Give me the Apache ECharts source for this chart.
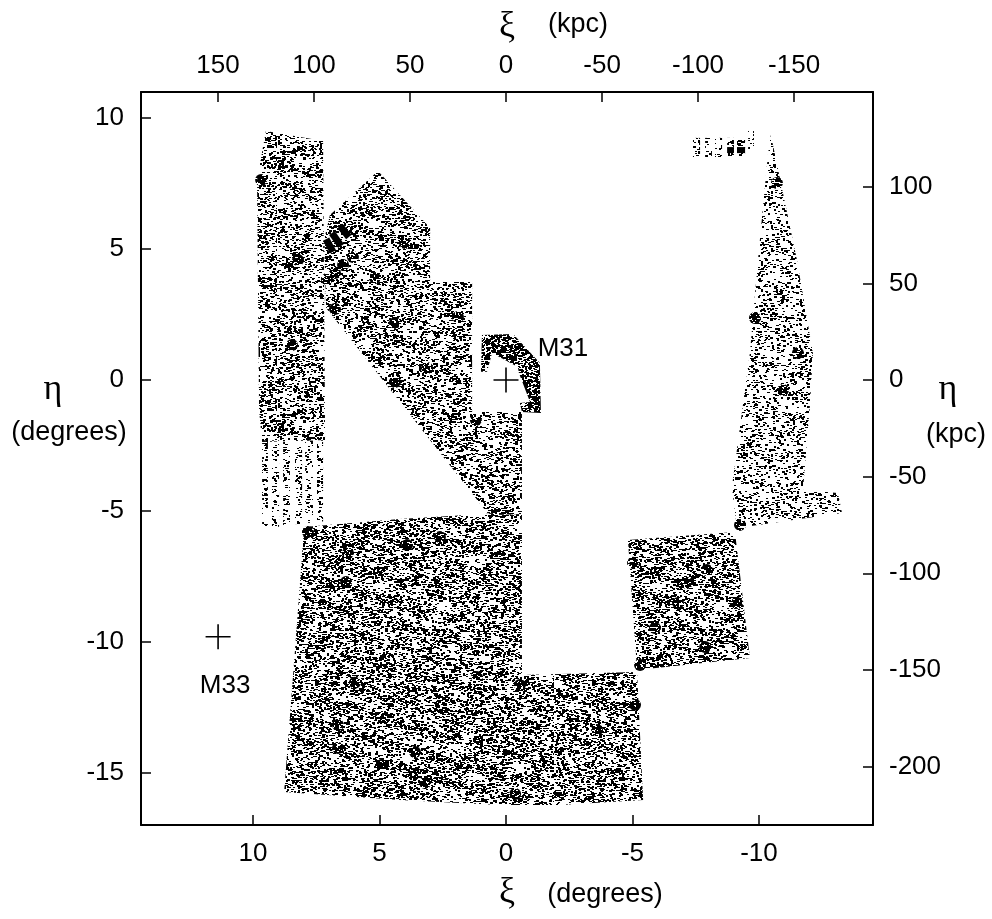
<!DOCTYPE html>
<html><head><meta charset="utf-8">
<style>html,body{margin:0;padding:0;background:#fff}#c{width:992px;height:919px}</style>
<script src="https://cdn.jsdelivr.net/npm/echarts@6/dist/echarts.min.js"></script>
</head><body><div id="c"></div>
<script>
// Tick labels
const xiDegTicks = [10, 5, 0, -5, -10];
const etaDegTicks = [10, 5, 0, -5, -10, -15];
const xiKpcTicks = [150, 100, 50, 0, -50, -100, -150];
const etaKpcTicks = [100, 50, 0, -50, -100, -150, -200];

// Survey footprints, [xi, eta] in degrees
const stripNorth = [[9.49,9.50],[7.23,9.12],[7.15,-2.29],[9.64,-2.37],[9.76,-1.15],[9.84,7.63]];
const diagonalField = [[5.06,7.98],[3.00,5.80],[3.00,3.74],[1.34,3.74],[1.34,-1.22],[-0.63,-1.22],[-0.63,-5.15],[0.71,-5.11],[7.11,2.75],[7.19,5.34],[6.96,6.30]];
const southField = [[7.98,-5.61],[4.19,-5.31],[0.71,-5.11],[-0.63,-5.15],[-0.63,-11.26],[-5.18,-11.15],[-5.42,-16.03],[-2.13,-16.22],[0.24,-16.22],[4.19,-16.03],[8.77,-15.73],[8.34,-10.31]];
const westWedge = [[-10.47,9.35],[-11.50,4.58],[-12.13,1.03],[-12.02,-0.88],[-11.74,-4.20],[-13.12,-4.31],[-13.28,-5.08],[-9.13,-5.65],[-8.93,-4.08],[-9.64,1.03],[-9.96,4.58],[-10.36,8.66]];
const westSquare = [[-4.82,-6.11],[-9.05,-5.80],[-9.64,-10.61],[-5.18,-11.07]];
const m31Patch = [[0.95,1.72],[-0.28,1.76],[-1.34,0.65],[-1.38,-1.26],[-0.63,-1.22],[-0.55,-0.88],[-0.95,-0.84],[-0.51,0.27],[-0.47,0.50],[0.55,1.03],[0.75,0.31],[0.99,0.31]];

// Striped pointings: [xi left, xi right, eta top, eta bottom]
const southStripes = [[9.64,9.41,-2.3,-5.6],[9.25,8.97,-2.3,-5.6],[8.81,8.54,-2.3,-5.55],[8.34,8.06,-2.3,-5.5],[7.94,7.63,-2.3,-5.45],[7.47,7.23,-2.3,-5.4]];
const northStripes = [[-7.39,-7.67,9.24,8.51],[-7.87,-8.14,9.24,8.51],[-8.26,-8.54,9.24,8.51],[-8.74,-9.01,9.24,8.51],[-9.13,-9.45,9.24,8.51],[-9.57,-9.80,9.54,8.78]];
const solidBlocks = [[-8.74,-9.01,8.89,8.66],[-9.13,-9.45,8.89,8.66]];
// Saturated bars in the north-east field: [xi1, eta1, xi2, eta2]
const solidBars = [[7.11,5.38,6.84,4.89],[6.88,5.61,6.52,5.11],[6.56,5.88,6.21,5.46]];

// Visible overdensities, [xi, eta]
const clumps = [[9.68,7.63],[8.22,4.58],[8.46,1.34],[6.05,4.69],[6.44,4.39],[6.76,4.08],[7.08,3.85],[5.18,3.89],[6.76,2.71],[4.39,2.18],[3.12,0.46],[4.39,-0.08],[3.99,5.23],[1.90,2.40],[1.19,-1.53],[6.32,-7.71],[6.25,-6.60],[3.91,-6.30],[2.61,-5.99],[7.83,-5.80],[6.64,-13.17],[6.64,-14.05],[3.60,-14.20],[-0.55,-11.64],[-5.10,-12.40],[-0.36,-15.80],[4.90,-14.69],[1.15,-11.34],[5.97,-11.56],[-3.60,-13.36],[3.20,-15.38],[-7.15,-7.75],[-6.80,-8.51],[-7.94,-7.25],[-9.13,-8.51],[-5.02,-6.98],[-5.89,-9.47],[-7.87,-10.19],[-5.30,-10.88],[-11.54,1.03],[-10.71,7.52],[-10.95,-0.38],[-9.84,2.37],[-9.25,-5.53]];

// Galaxy markers
const galaxyNames = ['M31','M33'];
const galaxyPositions = [[0,0],[11.38,-9.8]];

// A printed stipple texture only: it is a fill style for the footprints,
// not a set of measured stars.
function stipple(w,h,count,seed,clumpy){
  const cv=document.createElement('canvas');cv.width=w;cv.height=h;
  const g=cv.getContext('2d');g.fillStyle='#000';
  let s=seed>>>0;
  const next=()=>{s=(s+0x6D2B79F5)>>>0;let t=s;t=Math.imul(t^(t>>>15),t|1);t^=t+Math.imul(t^(t>>>7),t|61);return((t^(t>>>14))>>>0)/4294967296;};
  const k=2*Math.PI;
  for(let i=0;i<count;i++){
    const x=Math.floor(next()*w),y=Math.floor(next()*h);
    const m=clumpy?0.55+0.12*Math.sin(k*7*x/w+k*5*y/h)+0.12*Math.cos(k*11*y/h-k*3*x/w+1)+0.12*Math.sin(k*4*x/w-k*13*y/h+2):0.9;
    if(next()>m) continue;
    g.fillRect(x,y,next()<0.7?2:3,next()<0.7?1:2);
  }
  return {type:'pattern',image:cv,repeat:'repeat'};
}
const tileMain=stipple(277,263,26000,11,true);
const tileMid=stipple(277,263,21000,29,true);
const tileLight=stipple(277,263,13500,47,true);
const tileDense=stipple(97,89,3600,71,false);

function polyItem(points,fill,api){
  return {type:'polygon',shape:{points:points.map(p=>api.coord(p))},style:{fill:fill},silent:true};
}
function stripeToPoly(r){return [[r[0],r[2]],[r[1],r[2]],[r[1],r[3]],[r[0],r[3]]];}

const regions=[
  {pts:stripNorth,fill:tileMid},
  {pts:diagonalField,fill:tileMid},
  {pts:southField,fill:tileMain},
  {pts:westWedge,fill:tileLight},
  {pts:westSquare,fill:tileMain},
  {pts:m31Patch,fill:tileDense}
].concat(southStripes.map(r=>({pts:stripeToPoly(r),fill:tileLight})))
 .concat(northStripes.map(r=>({pts:stripeToPoly(r),fill:tileLight})))
 .concat(solidBlocks.map(r=>({pts:stripeToPoly(r),fill:'#000'})));

const black='#000';
const font='"Liberation Sans", Arial, sans-serif';
const greek='"Liberation Serif", serif';
function axis(extra,ticks,margin){
  return Object.assign({type:'value',
    axisLine:{onZero:false,lineStyle:{color:black,width:2}},
    splitLine:{show:false},
    axisTick:{inside:true,length:10,lineStyle:{color:black,width:1.5},customValues:ticks},
    axisLabel:{color:black,fontFamily:font,fontSize:26,margin:margin,customValues:ticks}
  },extra);
}
function txt(x,y,t,size,fam){
  return {type:'text',x:x,y:y,style:{text:t,fontSize:size,fontFamily:fam,fill:black,align:'center',verticalAlign:'middle'}};
}
const labelOffsets=[[72,-29],[22,51]];

const chart=echarts.init(document.getElementById('c'),null,{renderer:'canvas'});
chart.setOption({
  animation:false,
  backgroundColor:'#fff',
  grid:{left:141,right:119,top:92,bottom:94,containLabel:false},
  xAxis:[
    axis({position:'bottom',inverse:true,min:-14.506,max:14.427},xiDegTicks,16),
    axis({position:'top',inverse:true,min:-191.1,max:190.1},xiKpcTicks,13)
  ],
  yAxis:[
    axis({position:'left',min:-16.985,max:10.992},etaDegTicks,17),
    axis({position:'right',min:-230.3,max:149.1},etaKpcTicks,16)
  ],
  graphic:{elements:[
    txt(507,27,'ξ',36,greek),
    txt(578,25,'(kpc)',27,font),
    txt(507,893,'ξ',36,greek),
    txt(605,895,'(degrees)',27,font),
    txt(53,390,'η',36,greek),
    txt(69,433,'(degrees)',27,font),
    txt(948,390,'η',36,greek),
    txt(956,435,'(kpc)',27,font)
  ]},
  series:[
    {type:'custom',coordinateSystem:'cartesian2d',silent:true,clip:false,
     data:regions.map((r,i)=>[i]),encode:{x:-1,y:-1},
     renderItem:(p,api)=>{const r=regions[p.dataIndex];return polyItem(r.pts,r.fill,api);}},
    {type:'custom',coordinateSystem:'cartesian2d',silent:true,clip:false,
     data:clumps,encode:{x:0,y:1},
     renderItem:(p,api)=>{const c=api.coord([api.value(0),api.value(1)]);
       return {type:'circle',shape:{cx:c[0],cy:c[1],r:6},style:{fill:tileDense},silent:true};}},
    {type:'custom',coordinateSystem:'cartesian2d',silent:true,clip:false,
     data:solidBars,encode:{x:[0,2],y:[1,3]},
     renderItem:(p,api)=>{const a=api.coord([api.value(0),api.value(1)]),b=api.coord([api.value(2),api.value(3)]);
       return {type:'line',shape:{x1:a[0],y1:a[1],x2:b[0],y2:b[1]},style:{stroke:black,lineWidth:7},silent:true};}},
    {type:'scatter',silent:true,clip:false,z:5,
     data:galaxyNames.map((n,i)=>({name:n,value:galaxyPositions[i],
       label:{show:true,formatter:'{b}',color:black,opacity:1,fontFamily:font,fontSize:26,
              position:labelOffsets[i],align:'center',verticalAlign:'top'}})),
     symbol:'path://M12,0V24M0,12H24',symbolSize:25,
     itemStyle:{color:'none',borderColor:black,borderWidth:1.6,opacity:1}}
  ]
});
</script></body></html>
